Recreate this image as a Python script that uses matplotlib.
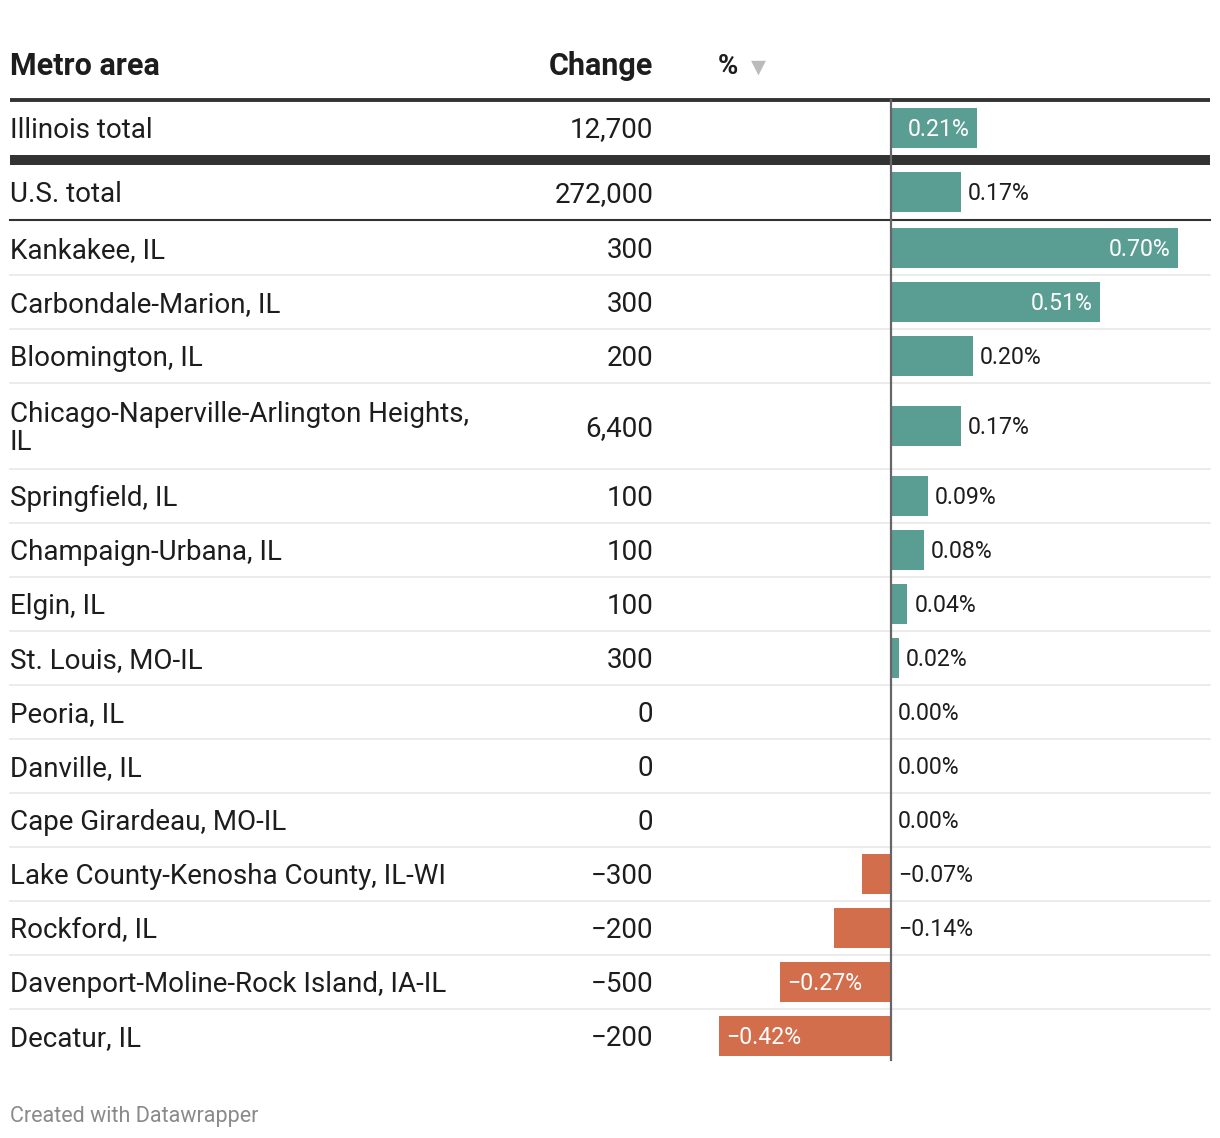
import matplotlib
matplotlib.use("Agg")
import matplotlib.pyplot as plt
from matplotlib.patches import Rectangle

# ---------------- data ----------------
areas = ["Illinois total", "U.S. total", "Kankakee, IL", "Carbondale-Marion, IL",
         "Bloomington, IL", "Chicago-Naperville-Arlington Heights,\nIL",
         "Springfield, IL", "Champaign-Urbana, IL", "Elgin, IL", "St. Louis, MO-IL",
         "Peoria, IL", "Danville, IL", "Cape Girardeau, MO-IL",
         "Lake County-Kenosha County, IL-WI", "Rockford, IL",
         "Davenport-Moline-Rock Island, IA-IL", "Decatur, IL"]
change = [12700, 272000, 300, 300, 200, 6400, 100, 100, 100, 300, 0, 0, 0,
          -300, -200, -500, -200]
pct = [0.21, 0.17, 0.70, 0.51, 0.20, 0.17, 0.09, 0.08, 0.04, 0.02, 0.00, 0.00,
       0.00, -0.07, -0.14, -0.27, -0.42]
headers = ["Metro area", "Change", "%"]
footer = "Created with Datawrapper"

# ---------------- style ----------------
W, H = 1220, 1138
TEAL = "#5a9d93"
ORANGE = "#d36e4c"
DARK = "#333333"
TXT = "#1d1d1d"
FONT = ["Roboto", "DejaVu Sans"]
plt.rcParams["font.family"] = FONT

fig = plt.figure(figsize=(W / 100, H / 100), dpi=100)
ax = fig.add_axes([0, 0, 1, 1])
ax.set_xlim(0, W)
ax.set_ylim(H, 0)
ax.axis("off")

BODY = 20.0
HEAD = 22.0
LBL = 16.7

# row geometry (layout, pixels)
row_h = [55, 54, 54, 54, 54, 86, 54, 54, 54, 54, 54, 54, 54, 54, 54, 54, 54]
gaps = {0: 10, 1: 2}  # separators after Illinois (thick) and U.S. (line)
tops = []
y = 100
for i, h in enumerate(row_h):
    tops.append(y)
    y += h + gaps.get(i, 0)
centers = [t + h / 2 for t, h in zip(tops, row_h)]
bottom = tops[-1] + row_h[-1]

NUM_X = 653.5

# header
ax.text(10, 75, headers[0], fontsize=HEAD, fontweight="bold", color=TXT, va="baseline")
ax.text(NUM_X, 75, headers[1], fontsize=HEAD, fontweight="bold", color=TXT, va="baseline", ha="right")
ax.text(718, 74, headers[2], fontsize=HEAD * 0.9, fontweight="bold", color=TXT, va="baseline")
ax.text(751, 73, "\u25BC", fontsize=14, color="#bbbbbb", va="baseline", family="DejaVu Sans")

# lines
ax.plot([10, 1210], [100, 100], color=DARK, lw=2.8, solid_capstyle="butt")
ax.add_patch(Rectangle((10, tops[0] + row_h[0]), 1200, 10, color=DARK, lw=0))
ax.plot([10, 1210], [tops[1] + row_h[1] + 1, tops[1] + row_h[1] + 1], color=DARK, lw=1.5)
for i in range(2, len(areas) - 1):
    yl = tops[i] + row_h[i]
    ax.plot([10, 1210], [yl, yl], color="#e8e8e8", lw=1.2)

# text columns
for i, (a, c) in enumerate(zip(areas, change)):
    yc = centers[i]
    if "\n" in a:
        l1, l2 = a.split("\n")
        ax.text(10, yc - 14 + 10, l1, fontsize=BODY, color=TXT, va="baseline")
        ax.text(10, yc + 14 + 10, l2, fontsize=BODY, color=TXT, va="baseline")
    else:
        ax.text(10, yc + 10, a, fontsize=BODY, color=TXT, va="baseline")
    s = f"{abs(c):,}"
    if c < 0:
        s = "\u2212" + s
    ax.text(NUM_X, yc + 10, s, fontsize=BODY, color=TXT, va="baseline", ha="right")

# bar column
x0, x1, zero = 700, 1210, 891
scale = (1178 - 891) / 0.70  # px per percent
bax = fig.add_axes([x0 / W, 0, (x1 - x0) / W, 1])
bax.set_xlim((x0 - zero) / scale, (x1 - zero) / scale)
bax.set_ylim(H, 0)
bax.axis("off")
bax.patch.set_alpha(0)
colors = [TEAL if v >= 0 else ORANGE for v in pct]
bax.barh(centers, pct, height=40, color=colors, left=0)
bax.plot([0, 0], [100, bottom - 3], color="#666666", lw=1.6, zorder=3)

pad = 7 / scale
for yc, v in zip(centers, pct):
    s = f"{abs(v):.2f}%"
    if v < 0:
        s = "\u2212" + s
    inside = abs(v) >= 0.205
    if inside and v > 0:
        bax.text(v - pad, yc + 8, s, fontsize=LBL, color="white", ha="right", va="baseline")
    elif inside and v < 0:
        bax.text(v + pad, yc + 8, s, fontsize=LBL, color="white", ha="left", va="baseline")
    else:
        xv = max(v, 0) + pad
        bax.text(xv, yc + 8, s, fontsize=LBL, color=TXT, ha="left", va="baseline")

ax.text(10, 1122, footer, fontsize=15.5, color="#8a8a8a", va="baseline")

fig.savefig("out.png", dpi=100)
